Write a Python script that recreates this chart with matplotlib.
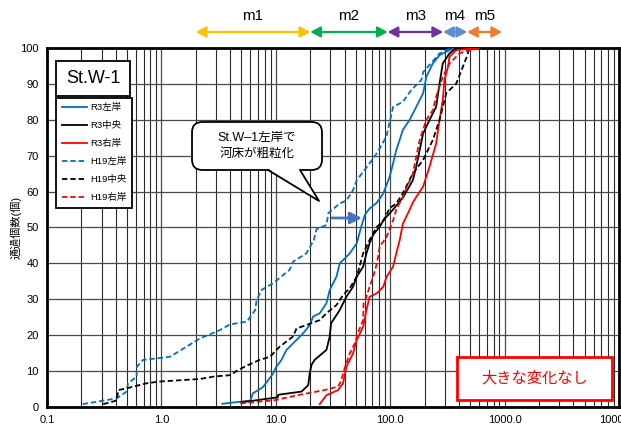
import matplotlib
matplotlib.use("Agg")
import matplotlib.pyplot as plt
from matplotlib.patches import Rectangle, FancyBboxPatch, Polygon
from matplotlib.lines import Line2D
import matplotlib.transforms as mtransforms

plt.rcParams['font.family'] = ['Liberation Sans', 'Noto Sans CJK JP', 'DejaVu Sans']

# ---- grain-count cumulative curves (size in mm, passing %) ----
r3_left_x = [3.4, 6.0, 6.3, 7.7, 8.6, 9.5, 10.1, 11.2, 12.4, 15.2, 17.3, 19.8, 21.2, 24.2, 27.7, 29.6,
             33.9, 36.2, 44.3, 51, 55, 60, 66, 76.5, 87, 99, 106, 113, 121, 129, 148, 169, 194, 207,
             236, 270, 360]
r3_left_y = [0.9, 1.8, 3.8, 5.5, 7.5, 9.4, 11.2, 13.1, 15.9, 18.7, 20.5, 22.8, 25.2, 26.1, 28.9, 32.6,
             36.3, 40.0, 42.8, 45.6, 49.5, 53.5, 55.3, 56.9, 59.5, 64.2, 67.9, 71.6, 74.4, 77.2, 80.0,
             83.6, 87.4, 92.0, 95.7, 98.0, 100]

r3_center_x = [5.0, 10.4, 10.5, 16.8, 19.2, 19.8, 20.5, 21.8, 27.7, 29.6, 30.4, 36.2, 41.4, 47.3, 51,
               58, 62, 66, 71, 81, 87, 106, 129, 158, 169, 181, 194, 221, 252, 270, 288, 330, 378]
r3_center_y = [1.3, 2.7, 3.4, 4.3, 6.1, 9.4, 11.7, 13.1, 15.9, 19.6, 23.3, 27.0, 30.7, 33.5, 36.3,
               39.1, 42.8, 45.6, 48.0, 50.2, 52.0, 55.0, 58.3, 63.2, 67.0, 71.6, 76.2, 80.0, 83.6,
               90.1, 95.7, 98.5, 100]

r3_right_x = [24.2, 27.7, 35.0, 38.7, 41.4, 47.3, 51, 54.4, 58, 62, 66, 76.5, 87, 93, 106, 113, 121,
              129, 148, 158, 169, 194, 221, 252, 270, 288, 298, 320, 330, 378, 570]
r3_right_y = [0.8, 3.3, 4.7, 6.6, 11.2, 14.9, 18.7, 20.5, 22.4, 27.0, 30.7, 31.7, 33.5, 36.3, 39.1,
              42.8, 46.5, 51.0, 55.0, 57.0, 58.5, 61.4, 67.0, 73.4, 80.0, 85.5, 91.1, 94.8, 97.6,
              99.4, 100]

h19_left_x = [0.205, 0.406, 0.497, 0.51, 0.607, 0.61, 0.69, 1.19, 2.17, 3.24, 3.97, 5.6, 6.6, 6.8,
              7.5, 9.5, 13.2, 14.2, 18.5, 21.5, 22.7, 27.7, 28.8, 36.2, 41.4, 47.3, 51.1, 66.2,
              76.5, 92.6, 106, 129, 153, 187, 195, 221, 270, 342]
h19_left_y = [0.8, 2.4, 4.3, 6.6, 8.4, 11.2, 13.1, 14.0, 19.1, 21.4, 23.0, 23.8, 27.0, 29.8, 32.6,
              34.5, 38.2, 40.5, 42.8, 46.5, 49.5, 50.7, 54.0, 56.7, 57.5, 60.4, 63.2, 67.9, 70.7,
              75.3, 83.6, 85.0, 88.3, 91.1, 93.4, 95.3, 98.5, 100]

h19_center_x = [0.31, 0.406, 0.42, 0.497, 0.74, 0.97, 2.17, 2.9, 4.1, 4.4, 5.55, 7.2, 8.9, 10.8,
                14.1, 15.2, 18.5, 24.2, 27.7, 33.9, 38.7, 44.3, 51, 58, 66, 71, 76.5, 87, 99, 113,
                129, 158, 194, 236, 270, 309, 378, 432, 473, 490]
h19_center_y = [0.8, 1.8, 4.7, 5.2, 6.6, 7.1, 7.8, 8.5, 8.9, 9.8, 11.5, 13.1, 14.0, 16.8, 19.6,
                21.9, 22.8, 24.2, 26.1, 28.4, 31.2, 33.1, 36.3, 42.8, 46.5, 48.4, 50.2, 51.8,
                55.4, 56.7, 59.5, 65.1, 68.8, 74.4, 80.0, 87.4, 90.1, 94.8, 98.0, 100]

h19_right_x = [4.9, 9.8, 15.6, 26.5, 35.1, 37.5, 38.7, 41.4, 44.3, 49, 52, 58, 58.5, 62, 66, 71,
               76.5, 81, 93, 106, 113, 129, 158, 181, 207, 236, 252, 288, 330, 404, 490, 620]
h19_right_y = [1.0, 1.9, 3.3, 4.7, 5.7, 7.5, 9.4, 12.2, 14.9, 17.7, 20.5, 24.2, 28.9, 30.7, 33.5,
               36.3, 40.0, 44.7, 47.4, 52.0, 55.0, 58.6, 65.1, 74.4, 80.0, 82.7, 86.4, 92.0,
               95.7, 98.5, 99.4, 100]

series_labels = ['R3左岸', 'R3中央', 'R3右岸', 'H19左岸', 'H19中央', 'H19右岸']

# size classes shown above the plot
class_names = ['m1', 'm2', 'm3', 'm4', 'm5']
class_bounds = [2.0, 20.0, 95.0, 290.0, 470.0, 950.0]
class_colors = ['#FFC000', '#00B050', '#7030A0', '#5B8FD0', '#ED7D31']

x_ticks = [0.1, 1, 10, 100, 1000, 10000]
x_tick_labels = ['0.1', '1.0', '10.0', '100.0', '1000.0', '10000.0']
y_ticks = list(range(0, 101, 10))

BLUE = '#0070C0'
RED = '#FF0000'
BLACK = '#000000'

fig = plt.figure(figsize=(6.21, 4.30), dpi=100)
ax = fig.add_axes([0.0757, 0.0535, 0.9211, 0.8349])

ax.set_xscale('log')
ax.set_xlim(0.1, 10000)
ax.set_ylim(0, 100)

# grid
ax.grid(True, which='major', axis='both', color='#4a4a4a', lw=0.9, zorder=0)
ax.grid(True, which='minor', axis='x', color='#2a2a2a', lw=0.8, zorder=0)
ax.set_axisbelow(True)

ax.set_xticks(x_ticks)
ax.set_xticklabels(x_tick_labels, fontsize=8)
ax.set_yticks(y_ticks)
ax.set_yticklabels([str(v) for v in y_ticks], fontsize=8)
ax.tick_params(axis='both', which='both', length=0, pad=6)
for s in ax.spines.values():
    s.set_linewidth(2.0)
    s.set_color('black')

ax.set_ylabel('通過個数(個)', fontsize=8)
ax.yaxis.set_label_coords(-0.045, 0.5)

lw = 1.3
dash = (0, (3.0, 1.6))
ax.plot(r3_left_x, r3_left_y, color=BLUE, lw=lw, label=series_labels[0], zorder=3)
ax.plot(r3_center_x, r3_center_y, color=BLACK, lw=lw, label=series_labels[1], zorder=3)
ax.plot(r3_right_x, r3_right_y, color=RED, lw=lw, label=series_labels[2], zorder=3)
ax.plot(h19_left_x, h19_left_y, color=BLUE, lw=lw, ls=dash, label=series_labels[3], zorder=3)
ax.plot(h19_center_x, h19_center_y, color=BLACK, lw=lw, ls=dash, label=series_labels[4], zorder=3)
ax.plot(h19_right_x, h19_right_y, color=RED, lw=lw, ls=dash, label=series_labels[5], zorder=3)

# station name box
ax.add_patch(Rectangle((0.0165, 0.866), 0.128, 0.0985, transform=ax.transAxes,
                       facecolor='white', edgecolor='black', lw=1.3, zorder=6))
ax.text(0.0805, 0.915, 'St.W-1', transform=ax.transAxes, ha='center', va='center',
        fontsize=13, zorder=7)

# legend
leg = ax.legend(loc='upper left', bbox_to_anchor=(0.0165, 0.862), fontsize=6.8,
                frameon=True, fancybox=False, edgecolor='black', framealpha=1,
                handlelength=2.6, handletextpad=0.4, labelspacing=0.95,
                borderpad=0.6, borderaxespad=0)
leg.get_frame().set_linewidth(1.3)
leg.set_zorder(6)

def px2ax(px, py):
    return ((px - 47) / 572.0, (407 - py) / 359.0)

# speech bubble
bx0, by0 = px2ax(192, 170)
bx1, by1 = px2ax(322, 122)
bubble = FancyBboxPatch((bx0, by0), bx1 - bx0, by1 - by0,
                        boxstyle='round,pad=0,rounding_size=0.018',
                        transform=ax.transAxes, facecolor='white', edgecolor='black',
                        lw=1.3, zorder=6, mutation_aspect=1.6)
ax.add_patch(bubble)
t1 = px2ax(268, 170)
t2 = px2ax(300, 170)
tip = px2ax(319, 201)
ax.add_patch(Polygon([(t1[0], t1[1] + 0.004), tip, (t2[0], t2[1] + 0.004)], closed=False,
                     transform=ax.transAxes, facecolor='white', edgecolor='none', zorder=7))
ax.add_line(Line2D([t1[0], tip[0], t2[0]], [t1[1], tip[1], t2[1]], transform=ax.transAxes,
                   color='black', lw=1.3, zorder=8))
cx, cy = px2ax(257, 146)
ax.text(cx, cy, 'St.W\u20131左岸で\n河床が粗粒化', transform=ax.transAxes, ha='center',
        va='center', fontsize=9, linespacing=1.35, zorder=9)

# blue shift arrow
a0 = px2ax(332, 218)
a1 = px2ax(362, 218)
ax.annotate('', xy=a1, xytext=a0, xycoords='axes fraction', textcoords='axes fraction',
            arrowprops=dict(arrowstyle='-|>,head_length=0.7,head_width=0.35',
                            color='#4472C4', lw=2.0, shrinkA=0, shrinkB=0), zorder=9)

# "no large change" box
r0 = px2ax(457, 400)
r1 = px2ax(612, 357)
ax.add_patch(Rectangle(r0, r1[0] - r0[0], r1[1] - r0[1], transform=ax.transAxes,
                       facecolor='white', edgecolor=RED, lw=2.0, zorder=6))
ax.text((r0[0] + r1[0]) / 2, (r0[1] + r1[1]) / 2, '大きな変化なし', transform=ax.transAxes,
        ha='center', va='center', fontsize=11, color=RED, zorder=7)

# size-class arrows above the axes
trans = mtransforms.blended_transform_factory(ax.transData, ax.transAxes)
for i, name in enumerate(class_names):
    lo, hi = class_bounds[i], class_bounds[i + 1]
    ax.annotate('', xy=(hi, 1.0446), xytext=(lo, 1.0446), xycoords=trans, textcoords=trans,
                arrowprops=dict(arrowstyle='<|-|>,head_length=0.6,head_width=0.32',
                                color=class_colors[i], lw=1.6, shrinkA=0, shrinkB=0),
                annotation_clip=False)
    xm = (lo * hi) ** 0.5
    ax.text(xm, 1.088, name, transform=trans, ha='center', va='center', fontsize=11,
            clip_on=False)

fig.savefig('out.png', dpi=100)
